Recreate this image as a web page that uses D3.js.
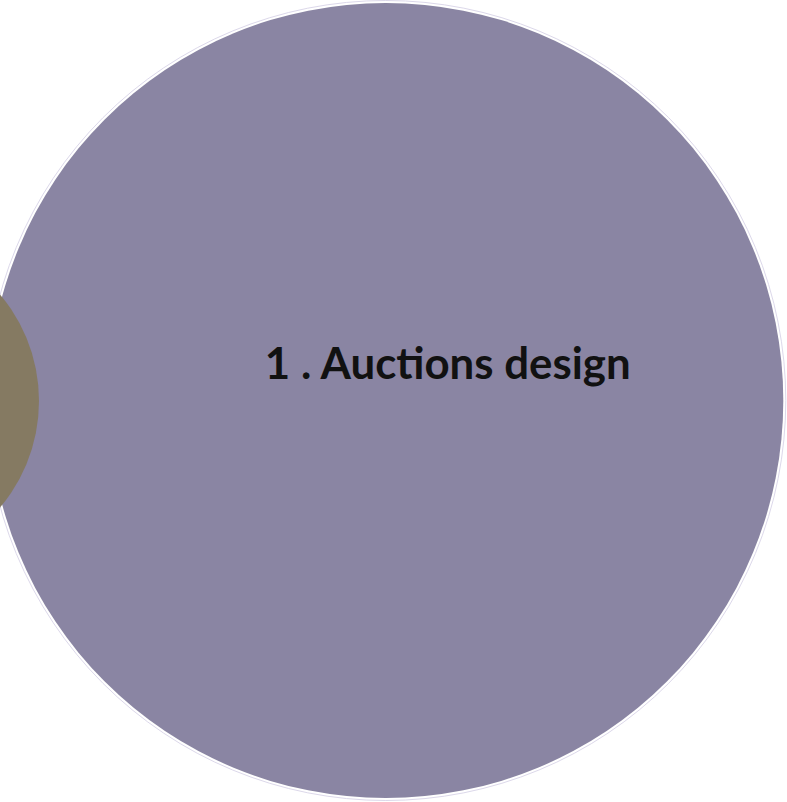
<!DOCTYPE html>
<html>
<head>
<meta charset="utf-8">
<script src="https://cdn.jsdelivr.net/npm/d3@7"></script>
<style>
  html, body { margin: 0; padding: 0; background: #fff; }
  svg { display: block; }
</style>
</head>
<body>
<script>
// ---- data ----
const names = ["1 . Auctions design", "2 . Other"];
const sizes = [397.5, 165];          // node radii in layout units
const xs = [0, -511.8];              // node centres in layout units (relative to focus)
const ys = [0, 0.5];
const showLabel = [true, false];
const colors = ["#8a85a3", "#857a62"];

const W = 787, H = 802;
const svg = d3.select("body").append("svg").attr("width", W).attr("height", H);

// focus view: the focused node fills the frame
const focusR = sizes[0];
const x = d3.scaleLinear().domain([-focusR, focusR]).range([385.8 - 397.5, 385.8 + 397.5]);
const y = d3.scaleLinear().domain([-focusR, focusR]).range([400.5 - 397.5, 400.5 + 397.5]);
const k = (x(1) - x(0));

const nodes = names.map((n, i) => ({ name: n, r: sizes[i], x: xs[i], y: ys[i], color: colors[i], label: showLabel[i] }));

// outline ring of focus node
svg.append("circle")
  .attr("cx", x(nodes[0].x)).attr("cy", y(nodes[0].y))
  .attr("r", nodes[0].r * k + 2.5)
  .attr("fill", "#fff")
  .attr("stroke", "#dcd8ea")
  .attr("stroke-width", 1);

svg.selectAll("circle.node")
  .data(nodes)
  .join("circle")
  .attr("class", "node")
  .attr("cx", d => x(d.x))
  .attr("cy", d => y(d.y))
  .attr("r", d => d.r * k)
  .attr("fill", d => d.color);

const labels = svg.selectAll("text.label")
  .data(nodes.filter(d => d.label))
  .join("text")
  .attr("class", "label")
  .attr("x", d => x(d.x) + 62)
  .attr("y", d => y(d.y) - 22)
  .attr("text-anchor", "middle")
  .attr("font-family", "Lato, 'Open Sans', sans-serif")
  .attr("font-weight", "bold")
  .attr("font-size", 40)
  .attr("fill", "#111")
  .text(d => d.name);

// fit label width to target
labels.each(function() {
  const len = this.getComputedTextLength();
  const fs = 40 * 366 / len;
  d3.select(this).attr("font-size", fs);
});
</script>
</body>
</html>
